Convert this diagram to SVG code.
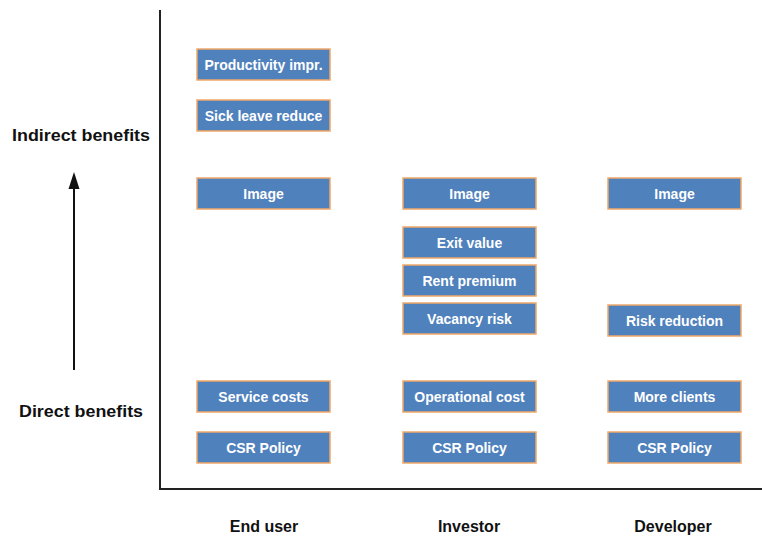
<svg xmlns="http://www.w3.org/2000/svg" width="762" height="537" viewBox="0 0 762 537">
<style>
.box rect{fill:#4F81BD;stroke:#F0A868;stroke-width:1.5}
.box text{fill:#fff;font-family:"Liberation Sans",Arial,sans-serif;font-weight:bold;font-size:14px;text-anchor:middle}
.lbl{fill:#111;font-family:"Liberation Sans",Arial,sans-serif;font-weight:bold;font-size:16px;text-anchor:middle}
.axis{stroke:#222;stroke-width:2;fill:none}
</style>
<rect width="762" height="537" fill="#fff"/>
<g id="connectors">
<path class="axis" d="M160,10 V489 H762"/>
<line x1="74" y1="370" x2="74" y2="188" stroke="#111" stroke-width="2"/>
<polygon points="74,172 68.5,189 79.5,189" fill="#111"/>
</g>
<g id="labels">
<text class="lbl" x="81" y="141" textLength="138" lengthAdjust="spacingAndGlyphs">Indirect benefits</text>
<text class="lbl" x="81" y="417" textLength="124" lengthAdjust="spacingAndGlyphs">Direct benefits</text>
<text class="lbl" x="264" y="532">End user</text>
<text class="lbl" x="469" y="532">Investor</text>
<text class="lbl" x="673" y="532">Developer</text>
</g>
<g id="n-productivity" class="box"><rect x="197" y="49" width="133" height="31"/><text x="263.5" y="70">Productivity impr.</text></g>
<g id="n-sickleave" class="box"><rect x="197" y="100" width="133" height="31"/><text x="263.5" y="121">Sick leave reduce</text></g>
<g id="n-image1" class="box"><rect x="197" y="178" width="133" height="31"/><text x="263.5" y="199">Image</text></g>
<g id="n-service" class="box"><rect x="197" y="381" width="133" height="31"/><text x="263.5" y="402">Service costs</text></g>
<g id="n-csr1" class="box"><rect x="197" y="432" width="133" height="31"/><text x="263.5" y="453">CSR Policy</text></g>
<g id="n-image2" class="box"><rect x="403" y="178" width="133" height="31"/><text x="469.5" y="199">Image</text></g>
<g id="n-exit" class="box"><rect x="403" y="227" width="133" height="31"/><text x="469.5" y="248">Exit value</text></g>
<g id="n-rent" class="box"><rect x="403" y="265" width="133" height="31"/><text x="469.5" y="286">Rent premium</text></g>
<g id="n-vacancy" class="box"><rect x="403" y="303" width="133" height="31"/><text x="469.5" y="324">Vacancy risk</text></g>
<g id="n-opcost" class="box"><rect x="403" y="381" width="133" height="31"/><text x="469.5" y="402">Operational cost</text></g>
<g id="n-csr2" class="box"><rect x="403" y="432" width="133" height="31"/><text x="469.5" y="453">CSR Policy</text></g>
<g id="n-image3" class="box"><rect x="608" y="178" width="133" height="31"/><text x="674.5" y="199">Image</text></g>
<g id="n-risk" class="box"><rect x="608" y="305" width="133" height="31"/><text x="674.5" y="326">Risk reduction</text></g>
<g id="n-clients" class="box"><rect x="608" y="381" width="133" height="31"/><text x="674.5" y="402">More clients</text></g>
<g id="n-csr3" class="box"><rect x="608" y="432" width="133" height="31"/><text x="674.5" y="453">CSR Policy</text></g>
</svg>
